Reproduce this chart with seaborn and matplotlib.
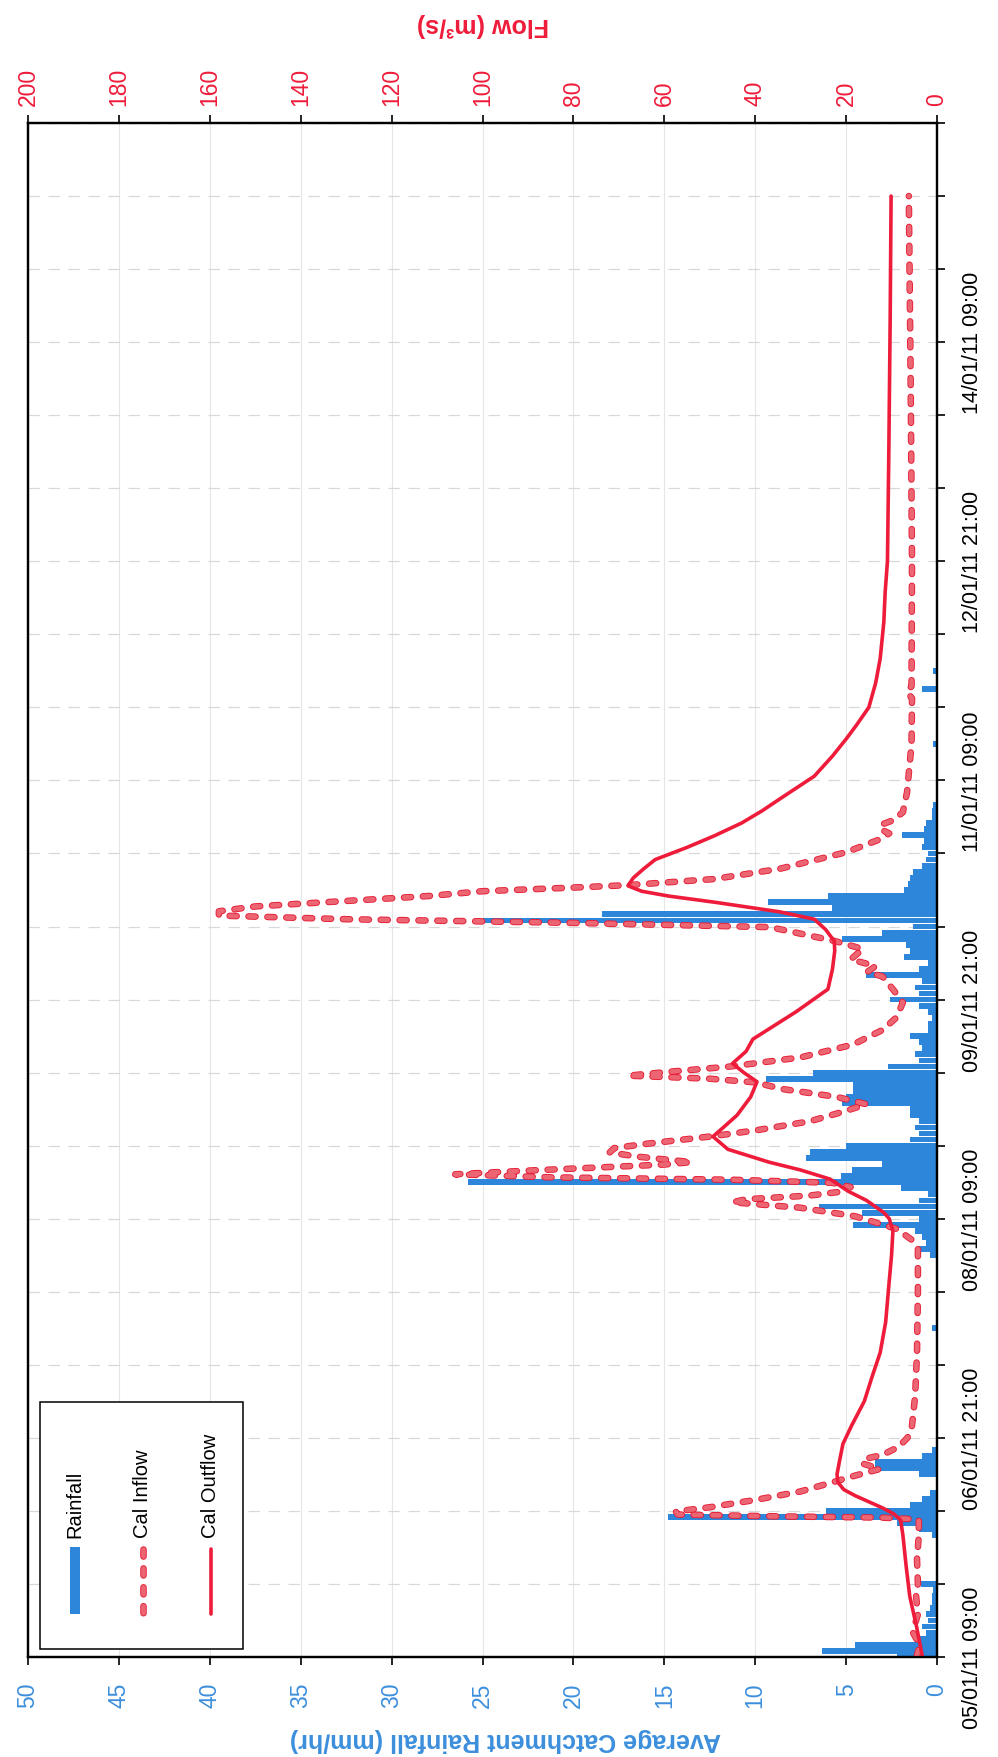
import numpy as np
import pandas as pd
import matplotlib
matplotlib.use("Agg")
import matplotlib.pyplot as plt
from matplotlib import font_manager
from matplotlib import patheffects as pe
from matplotlib.patches import Rectangle
from matplotlib.lines import Line2D
from matplotlib.transforms import Affine2D
import seaborn as sns

# ---------------------------------------------------------------- data
start = pd.Timestamp("2011-01-05 09:00")

# hourly catchment rainfall (hours after start, mm/hr)
rain_hour = [0, 1, 2, 3, 4, 5, 6, 7, 8, 9, 10, 11, 12,
             20, 21, 22, 23, 24, 25, 26, 27, 30, 31, 32, 33, 34,
             54,
             66, 67, 68, 69, 70, 71, 72, 73, 74, 75, 76, 77, 78, 79, 80,
             81, 82, 83, 84, 85, 86, 87, 88, 89, 90, 91, 92, 93, 94, 95,
             96, 97, 98, 99, 100, 101, 102, 103, 104, 105, 106, 107, 108,
             109, 110, 111, 112, 113, 114, 115, 116, 117, 118, 119, 120,
             121, 122, 123, 124, 125, 126, 127, 128, 129, 130, 131, 132,
             133, 134, 135, 136, 137, 138, 139, 140, 150, 159, 162]
rain_mm = [2.2, 6.3, 4.5, 1.2, 0.6, 0.8, 0.5, 0.6, 0.4, 0.3, 0.3, 0.2, 0.9,
           0.3, 1.0, 2.2, 14.8, 6.1, 1.5, 0.8, 0.4, 1.0, 3.4, 3.4, 0.8, 0.3,
           0.3,
           0.4, 1.0, 0.6, 0.8, 1.2, 4.6, 1.0, 4.1, 6.5, 1.0, 0.5, 2.0, 25.8, 5.3, 4.7,
           3.0, 7.2, 7.0, 5.0, 1.5, 1.0, 1.2, 1.0, 1.5, 1.5, 5.2, 5.0, 4.6, 4.6, 9.4,
           6.8, 2.7, 1.0, 1.2, 0.8, 1.0, 1.5, 0.5, 0.5, 0.3, 0.5, 1.0, 2.6,
           1.0, 1.2, 0.8, 3.9, 1.0, 0.5, 1.8, 1.5, 1.7, 5.2, 3.0, 1.3,
           25.0, 18.4, 5.8, 9.3, 6.0, 1.8, 1.6, 1.5, 1.3, 0.8, 0.6, 0.5,
           0.8, 0.7, 1.9, 0.7, 0.6, 0.3, 0.3, 0.2, 0.2, 0.8, 0.2]

# calibrated inflow (hours after start, m3/s)
inflow_hour = [0, 2, 4, 5.5, 7, 10, 12, 16, 20, 22.6, 22.9, 23.1, 23.4, 23.9,
               24.6, 25.8, 27.2, 28.7, 29.8, 30.9, 31.8, 32.6, 33.2, 34.5, 36,
               38, 43, 50, 60, 67, 68.5, 70.3, 72.4, 73.8, 74.7, 75.2, 75.8,
               76.4, 77.2, 77.9, 78.4, 78.8, 79.3, 79.9, 80.4, 80.9, 81.3, 81.6,
               82.2, 82.9, 83.6, 84.3, 85.5, 86.5, 88, 89.5, 90.8, 92, 93.3,
               94.4, 95, 95.5, 96.2, 97, 98.5, 100.6, 103, 105, 107.5, 109.5,
               111.8, 112.5, 113.5, 114.6, 116.3, 117.6, 119.9, 120.6, 121.2,
               121.8, 122.5, 123.3, 124.2, 125, 125.8, 126.4, 126.8, 127.8,
               129.5, 132.2, 134.2, 135.3, 136, 136.8, 137.5, 138.8, 142,
               150, 157.5, 158.5, 159.5, 180, 210, 240]
inflow_m3s = [4.5, 3.8, 5.3, 4.8, 4.2, 4.6, 4.2, 4.4, 4.0, 4.0, 12, 35, 57, 57.5,
              50, 40, 30, 23, 18, 12.5, 16.5, 15.5, 12, 8.5, 6.5,
              5.5, 4.8, 4.4, 4.2, 4.2, 5.5, 8.8, 18, 30, 45, 42, 28,
              21.6, 19, 23, 45, 85, 106, 90, 75, 60, 54, 58,
              66, 72, 71, 64, 50, 40, 28, 21, 15.5, 22, 34,
              40, 50, 68, 58, 45.5, 30, 18.5, 12, 9, 7.5, 9.5,
              12, 15.4, 13.5, 19, 16.3, 22.4, 36.7, 80, 130,
              158, 158, 150, 130, 112, 100, 80, 68, 49,
              34.5, 20, 13, 10.5, 12.5, 12, 9.5, 7.5, 6.6,
              5.6, 5.5, 6.6, 5.6, 5.5, 5.8, 6.2]

# calibrated outflow (hours after start, m3/s)
outflow_hour = [0, 5, 10, 15, 20, 22.5, 23.5, 24.5, 25.5, 26.5, 27.5, 28.7, 30,
                32, 35, 38, 42, 46, 50, 55, 61, 66, 70, 72, 73, 75, 76.5, 78.5,
                80, 81.3, 83.4, 85.5, 87, 89, 92, 94.5, 96, 97.5, 99.5, 101.5,
                106, 109.7, 113, 116, 117.6, 119.5, 121.2, 122.4, 124, 125,
                125.8, 126.7, 128, 129.5, 131, 133, 134.9, 137, 139, 141,
                144.7, 148, 150.8, 153, 156, 160, 164, 170, 175, 180, 198,
                220, 240]
outflow_m3s = [3.2, 4.5, 6.0, 6.8, 7.5, 8.0, 9.5, 12.0, 15.0, 18.0, 20.5, 21.8, 22.0,
               21.5, 20.7, 18.8, 16.0, 14.3, 12.5, 11.3, 10.6, 10.0, 9.7, 10.5, 11.7,
               15.5, 19.5, 23.5, 30, 37, 46, 49.3, 47, 44, 41, 39.6, 42.5, 45, 42,
               40.5, 31, 24, 23, 22.5, 22.6, 24.5, 27, 34.5, 49, 59,
               65, 68, 66.8, 64.5, 62, 55, 49, 43, 38.5, 34.5,
               27, 23, 20, 17.8, 15, 13.5, 12.5, 11.7, 11.4, 10.9, 10.6,
               10.3, 10.1]

rain_ticks = list(range(0, 55, 5))
flow_ticks = list(range(0, 220, 20))
date_tick_hours = list(range(0, 253, 12))
date_tick_labels = [
    (start + pd.Timedelta(hours=h)).strftime("%d/%m/%y %H:%M") if (i % 3 == 0 and h < 252) else ""
    for i, h in enumerate(date_tick_hours)
]

series_names = ["Rainfall", "Cal Inflow", "Cal Outflow"]
rain_label = "Average Catchment Rainfall (mm/hr)"
flow_label = "Flow (m³/s)"

# ---------------------------------------------------------------- style
sns.set_theme(style="white")
plt.rcParams["font.family"] = ["Liberation Sans", "DejaVu Sans"]

available = {f.name for f in font_manager.fontManager.ttflist}
if "Liberation Sans Narrow" in available:
    date_family, date_size = ["Liberation Sans Narrow", "DejaVu Sans"], 19
else:
    date_family, date_size = ["Liberation Sans", "DejaVu Sans"], 15.5

BLUE = "#2E86DA"
BLUE_TXT = "#3C8FDC"
RED = "#EE1C3A"
DASH_FILL = "#EC6573"
DASH_EDGE = "#E61D36"
DASH_LW = 3.4
DASH_PATTERN = (0, (1.5, 2.5))
SOLID_LW = 2.6

dash_effects = [pe.Stroke(linewidth=DASH_LW + 1.3, foreground=DASH_EDGE), pe.Normal()]

W, H = 998, 1758
fig = plt.figure(figsize=(W / 100, H / 100), dpi=100)
fig.patch.set_facecolor("white")

left, right, top, bottom = 28, 937, 124, 1658
ax = fig.add_axes([left / W, 1 - bottom / H, (right - left) / W, (bottom - top) / H])

# rainfall bars growing from the right-hand (zero) side
sns.barplot(x=rain_mm, y=rain_hour, orient="y", native_scale=True, ax=ax,
            color=BLUE, saturation=1, width=0.95, errorbar=None, linewidth=0,
            zorder=2)

ax.set_xlim(50, 0)
ax.set_ylim(0, 252)

# flow on a second horizontal scale sharing the time axis
ax2 = ax.twiny()
sns.lineplot(x=inflow_m3s, y=inflow_hour, orient="y", sort=False, estimator=None,
             ax=ax2, color=DASH_FILL, linewidth=DASH_LW, linestyle=DASH_PATTERN)
inflow_line = ax2.lines[-1]
inflow_line.set_dash_capstyle("round")
inflow_line.set_path_effects(dash_effects)
sns.lineplot(x=outflow_m3s, y=outflow_hour, orient="y", sort=False, estimator=None,
             ax=ax2, color=RED, linewidth=SOLID_LW)
outflow_line = ax2.lines[-1]
outflow_line.set_solid_capstyle("round")
outflow_line.set_solid_joinstyle("round")
ax2.set_xlim(200, 0)
ax2.set_ylim(0, 252)

# grid
ax.set_axisbelow(True)
ax.grid(axis="x", color="#e6e6e6", linewidth=0.8, linestyle="-")
ax.grid(axis="y", color="#d8d8d8", linewidth=0.9, linestyle=(0, (9, 7)))

# rainfall axis (bottom)
ax.set_xticks(rain_ticks)
ax.set_xticklabels([str(v) for v in rain_ticks], rotation=90, fontsize=16.5)
ax.tick_params(axis="x", bottom=True, top=False, labelbottom=True, labeltop=False,
               direction="out", length=6, width=1.2, color="black",
               labelcolor=BLUE_TXT, pad=12)
ax.set_xlabel(rain_label, rotation=180, color=BLUE_TXT, fontsize=18, fontweight="bold")
ax.xaxis.set_label_coords(0.525, -0.0535)
ax.xaxis.label.set_va("center")

# time axis (right)
ax.set_yticks(date_tick_hours)
ax.set_yticklabels(date_tick_labels, rotation=90, va="center",
                   fontsize=date_size, family=date_family)
ax.tick_params(axis="y", left=False, right=True, labelleft=False, labelright=True,
               direction="out", length=6, width=1.2, color="black",
               labelcolor="black", pad=12)
ax.set_ylabel("")

# flow axis (top)
ax2.set_xticks(flow_ticks)
ax2.set_xticklabels([str(v) for v in flow_ticks], rotation=90, fontsize=16.5)
ax2.tick_params(axis="x", top=True, bottom=False, labeltop=True, labelbottom=False,
                direction="out", length=6, width=1.2, color="black",
                labelcolor=RED, pad=7)
ax2.set_xlabel(flow_label, rotation=180, color=RED, fontsize=18, fontweight="bold")
ax2.xaxis.set_label_position("top")
ax2.xaxis.set_label_coords(0.5, 1.0645)
ax2.xaxis.label.set_va("center")
ax2.set_ylabel("")

for a in (ax, ax2):
    for s in a.spines.values():
        s.set_color("black")
        s.set_linewidth(1.6)
        s.set_visible(True)

# legend box, laid out in pixel coordinates of the figure
px = Affine2D().scale(1 / W, -1 / H).translate(0, 1) + fig.transFigure
fig.add_artist(Rectangle((40, 1403), 203, 247, transform=px, facecolor="white",
                         edgecolor="black", linewidth=1.1, zorder=10))
fig.add_artist(Rectangle((70, 1548), 10, 67, transform=px, facecolor=BLUE,
                         edgecolor="none", zorder=11))
legend_dash = Line2D([143, 143], [1550, 1615], transform=px, color=DASH_FILL,
                     linewidth=DASH_LW, linestyle=DASH_PATTERN,
                     dash_capstyle="round", zorder=11)
legend_dash.set_path_effects(dash_effects)
fig.add_artist(legend_dash)
fig.add_artist(Line2D([211, 211], [1550, 1615], transform=px, color=RED,
                      linewidth=SOLID_LW, solid_capstyle="round", zorder=11))
for xc, name in zip([75, 143, 211], series_names):
    fig.text(xc, 1538, name, transform=px, rotation=90, ha="center", va="bottom",
             fontsize=14.5, color="black", zorder=12)

fig.savefig("out.png", dpi=100, facecolor="white")
